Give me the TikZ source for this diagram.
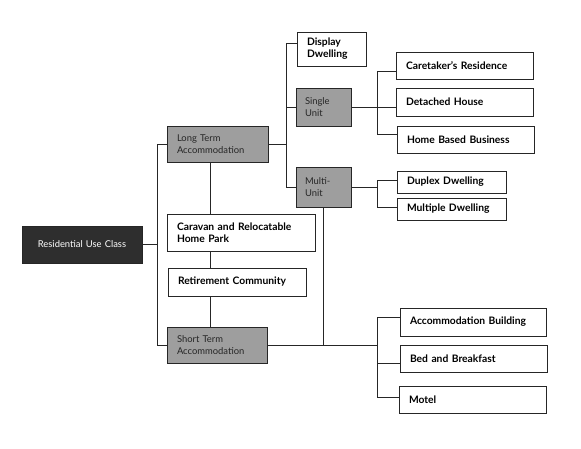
\documentclass[tikz,border=0pt]{standalone}
\usepackage{fontspec}
\setmainfont{Lato}
\begin{document}
\begin{tikzpicture}[x=1pt,y=-1pt,
  base/.style={draw=black!85, line width=0.8pt, inner xsep=10pt, inner ysep=0pt, align=left, anchor=center, font=\fontsize{9.4}{11.5}\selectfont},
  wbox/.style={base, fill=white, font=\fontsize{10.3}{11.8}\selectfont\bfseries},
  gbox/.style={base, fill=black!38, text=black!85},
  dbox/.style={base, fill=black!82, text=white, align=center},
  link/.style={draw=black!85, line width=0.8pt}]
\useasboundingbox (0,0) rectangle (581,449);
% bus coordinates
\coordinate (b1) at (157,0);
\coordinate (b2) at (286,0);
\coordinate (b3) at (377,0);
\coordinate (b4) at (210,0);
% nodes
\node[dbox, minimum width=120pt, text width=100pt, minimum height=37pt] (ruc) at (82,244.5) {Residential Use Class};
\node[gbox, minimum width=101pt, text width=81pt, minimum height=36pt] (lta) at (217.5,144) {Long Term\\Accommodation};
\node[wbox, minimum width=148pt, text width=128pt, minimum height=37pt] (car) at (241,232.5) {Caravan and Relocatable\\Home Park};
\node[wbox, minimum width=138pt, text width=118pt, minimum height=28pt] (ret) at (237,282) {Retirement Community};
\node[gbox, minimum width=100pt, text width=80pt, minimum height=36pt] (sta) at (217,345) {Short Term\\Accommodation};
\node[wbox, minimum width=69pt, text width=49pt, minimum height=34pt] (disp) at (331.5,49) {Display\\Dwelling};
\node[gbox, minimum width=55pt, text width=37pt, minimum height=38pt, inner xsep=9pt] (single) at (323.5,107) {Single\\Unit};
\node[gbox, minimum width=55pt, text width=37pt, minimum height=40pt, inner xsep=9pt] (multi) at (323.5,187) {Multi-\\Unit};
\node[wbox, minimum width=137pt, text width=117pt, minimum height=27pt] (care) at (464.5,65.5) {Caretaker’s Residence};
\node[wbox, minimum width=137pt, text width=117pt, minimum height=28pt] (det) at (464.5,102) {Detached House};
\node[wbox, minimum width=137pt, text width=117pt, minimum height=27pt] (home) at (465.5,139.5) {Home Based Business};
\node[wbox, minimum width=109pt, text width=89pt, minimum height=22pt] (dup) at (451.5,182) {Duplex Dwelling};
\node[wbox, minimum width=109pt, text width=89pt, minimum height=22pt] (mult) at (451.5,209) {Multiple Dwelling};
\node[wbox, minimum width=146pt, text width=126pt, minimum height=28pt] (acc) at (473,322) {Accommodation Building};
\node[wbox, minimum width=147pt, text width=127pt, minimum height=27pt] (bb) at (473.5,358.5) {Bed and Breakfast};
\node[wbox, minimum width=147pt, text width=127pt, minimum height=27pt] (mot) at (472.5,399.5) {Motel};
% connectors
\draw[link] (ruc.east) -- (ruc.east -| b1);
\draw[link] (lta.west) -- (lta.west -| b1) -- (sta.west -| b1) -- (sta.west);
\draw[link] (lta.south -| b4) -- (car.north -| b4);
\draw[link] (car.south -| b4) -- (ret.north -| b4);
\draw[link] (ret.south -| b4) -- (sta.north -| b4);
\draw[link] (lta.east) -- (lta.east -| b2);
\draw[link] ([yshift=6pt]disp.west) -- ([yshift=6pt]disp.west -| b2) -- (multi.west -| b2) -- (multi.west);
\draw[link] (single.west -| b2) -- (single.west);
\draw[link] (single.east) -- (single.east -| det.west);
\draw[link] ([yshift=-5.5pt]care.west) -- ([yshift=-5.5pt]care.west -| b3) -- ([yshift=5.5pt]home.west -| b3) -- ([yshift=5.5pt]home.west);
\draw[link] (multi.east) -- (multi.east -| b3);
\draw[link] ([yshift=2pt]dup.west) -- ([yshift=2pt]dup.west -| b3) -- ([yshift=2pt]mult.west -| b3) -- ([yshift=2pt]mult.west);
\draw[link] (multi.south) -- (multi.south |- sta.east);
\draw[link] (sta.east) -- (sta.east -| b3);
\draw[link] ([yshift=5pt]acc.west) -- ([yshift=5pt]acc.west -| b3) -- ([yshift=2.5pt]mot.west -| b3) -- ([yshift=2.5pt]mot.west);
\draw[link] ([yshift=-4.5pt]bb.west -| b3) -- ([yshift=-4.5pt]bb.west);
\end{tikzpicture}
\end{document}
